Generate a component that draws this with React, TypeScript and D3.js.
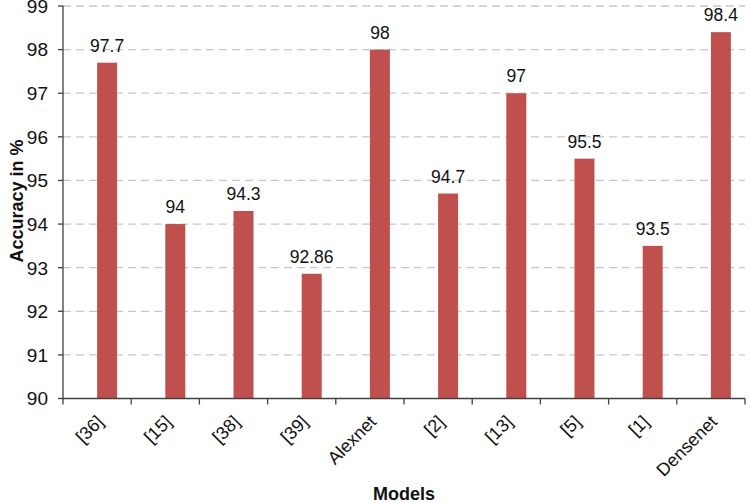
import React from "react";
import * as d3 from "d3";

const categories = ["[36]", "[15]", "[38]", "[39]", "Alexnet", "[2]", "[13]", "[5]", "[1]", "Densenet"];
const accuracy = [97.7, 94, 94.3, 92.86, 98, 94.7, 97, 95.5, 93.5, 98.4];
const yTicks = [90, 91, 92, 93, 94, 95, 96, 97, 98, 99];

export default function App() {
  const W = 750, H = 503;
  const left = 63, right = 745, top = 6, bottom = 398.5;
  const x = d3.scaleBand().domain(categories).range([left, right]).padding(0);
  const y = d3.scaleLinear().domain([90, 99]).range([bottom, top]);
  const barW = 20;
  const offset = 10;
  const font = "Arial, 'Liberation Sans', sans-serif";
  return (
    <svg width={W} height={H} style={{ position: "absolute", left: 0, top: 0 }} fontFamily={font}>
      <rect width={W} height={H} fill="#fff" />
      {yTicks.slice(1).map((t) => (
        <line key={t} x1={left} x2={right} y1={y(t)} y2={y(t)} stroke="#c8c8c8" strokeWidth={1.3} strokeDasharray="8,5" />
      ))}
      {categories.map((c, i) => {
        const cx = x(c)! + x.bandwidth() / 2 + offset;
        return (
          <g key={c}>
            <rect x={cx - barW / 2} y={y(accuracy[i])} width={barW} height={bottom - y(accuracy[i])} fill="#C0504D" />
            <text x={cx} y={y(accuracy[i]) - 11} textAnchor="middle" fontSize={17.5} fill="#111">{accuracy[i]}</text>
          </g>
        );
      })}
      <line x1={left} x2={left} y1={top} y2={bottom} stroke="#404040" strokeWidth={1.3} />
      <line x1={left} x2={right} y1={bottom} y2={bottom} stroke="#404040" strokeWidth={1.3} />
      {yTicks.map((t) => (
        <g key={t}>
          <line x1={left - 5} x2={left} y1={y(t)} y2={y(t)} stroke="#404040" strokeWidth={1.3} />
          <text x={left - 15} y={y(t)} dy="0.36em" textAnchor="end" fontSize={19} fill="#111">{t}</text>
        </g>
      ))}
      {categories.map((c) => (
        <line key={c} x1={x(c)!} x2={x(c)!} y1={bottom} y2={bottom + 6} stroke="#404040" strokeWidth={1.3} />
      ))}
      <line x1={right} x2={right} y1={bottom} y2={bottom + 6} stroke="#404040" strokeWidth={1.3} />
      {categories.map((c) => {
        const cx = x(c)! + x.bandwidth() / 2 + 3;
        return (
          <text key={c} transform={`translate(${cx},${bottom + 20}) rotate(-45)`} textAnchor="end" dy="0.35em" fontSize={18} fill="#111">{c}</text>
        );
      })}
      <text x={(left + right) / 2} y={500} textAnchor="middle" fontSize={18} fontWeight="bold" fill="#111">Models</text>
      <text transform={`translate(23,201) rotate(-90)`} textAnchor="middle" fontSize={18} fontWeight="bold" fill="#111">Accuracy in %</text>
    </svg>
  );
}
